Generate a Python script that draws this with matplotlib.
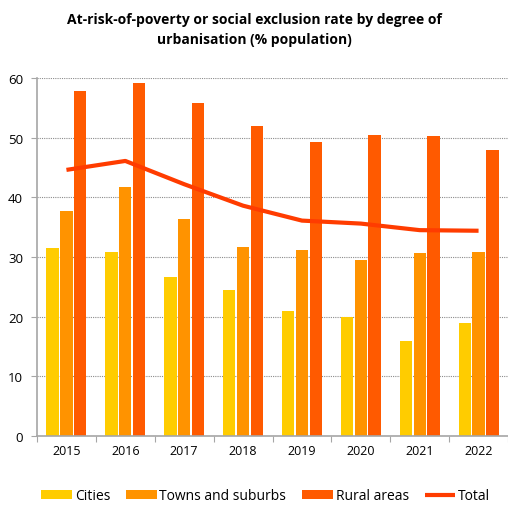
import matplotlib.pyplot as plt
import numpy as np

plt.rcParams['font.family'] = ['Open Sans', 'DejaVu Sans']

anni = ['2015', '2016', '2017', '2018', '2019', '2020', '2021', '2022']
citta = [31.5, 30.8, 26.6, 24.5, 20.9, 19.9, 16.0, 18.9]
cittadine = [37.7, 41.7, 36.3, 31.6, 31.2, 29.5, 30.6, 30.8]
rurali = [57.8, 59.1, 55.8, 52.0, 49.3, 50.4, 50.3, 47.9]
totale = [44.6, 46.1, 42.2, 38.6, 36.1, 35.6, 34.5, 34.4]

fig = plt.figure(figsize=(5.08, 5.06), dpi=100)
ax = fig.add_axes([37/508, 69/506, 471/508, 358/506])

x = np.arange(len(anni))
w = 0.21
passo = 0.235
b1 = ax.bar(x - passo, citta, w, color='#FFCC00', label='Cities', zorder=2)
b2 = ax.bar(x, cittadine, w, color='#FF9300', label='Towns and suburbs', zorder=2)
b3 = ax.bar(x + passo, rurali, w, color='#FF5A00', label='Rural areas', zorder=2)
l1, = ax.plot(x, totale, color='#FF3C00', lw=3, label='Total', zorder=3, solid_capstyle='butt')

ax.set_ylim(0, 60)
ax.set_xlim(-0.5, 7.35)
ax.set_yticks(range(0, 61, 10))
ax.set_xticks(np.arange(-0.5, 7.6, 1), minor=False)
ax.set_xticklabels([])
ax.set_xticks(x, minor=True)
ax.set_xticklabels(anni, minor=True)
ax.tick_params(axis='x', which='minor', length=0, labelsize=9, pad=6)
ax.tick_params(axis='x', which='major', length=4, color='#A6A6A6')
ax.tick_params(axis='y', length=4, color='#A6A6A6', labelsize=9.5, pad=6)

ax.grid(axis='y', linestyle=(0, (1, 1)), color='#8C8C8C', lw=0.8, zorder=0)
for s in ['top', 'right']:
    ax.spines[s].set_visible(False)
ax.spines['left'].set_color('#A6A6A6')
ax.spines['bottom'].set_color('#A6A6A6')
ax.spines['left'].set_linewidth(1.2)
ax.spines['bottom'].set_linewidth(1.2)

fig.text(0.5, 1 - 30/506, 'At-risk-of-poverty or social exclusion rate by degree of\nurbanisation (% population)',
         ha='center', va='center', fontsize=10, fontweight='bold', linespacing=1.5)

fig.legend([b1, b2, b3, l1], ['Cities', 'Towns and suburbs', 'Rural areas', 'Total'],
           loc='center', bbox_to_anchor=(0.523, 1 - 497/506), ncol=4, frameon=False,
           fontsize=10, handlelength=2.2, handleheight=0.6, handletextpad=0.2,
           columnspacing=1.15)

fig.savefig('out.png', dpi=100)
